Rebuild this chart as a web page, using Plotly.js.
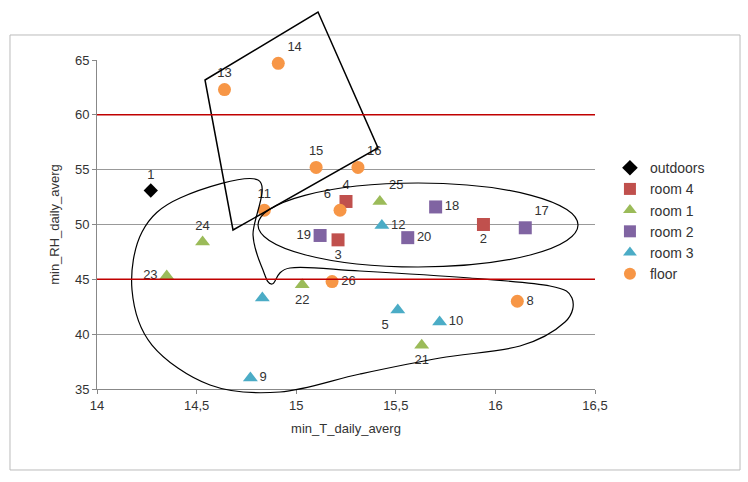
<!DOCTYPE html>
<html><head><meta charset="utf-8">
<script src="https://cdn.plot.ly/plotly-3.0.1.min.js"></script>
<style>body{margin:0;background:#fff}#plot{width:748px;height:482px}</style>
</head><body><div id="plot"></div>
<script>
const outdoorsX = [14.27], outdoorsY = [53.1], outdoorsL = ["1"];
const room4X = [15.25, 15.21, 15.94], room4Y = [52.1, 48.6, 50.0], room4L = ["4", "3", "2"];
const room1X = [15.42, 14.53, 14.35, 15.03, 15.63], room1Y = [52.1, 48.4, 45.3, 44.5, 39.0], room1L = ["25", "24", "23", "22", "21"];
const room2X = [15.12, 15.70, 15.56, 16.15], room2Y = [49.0, 51.6, 48.8, 49.7], room2L = ["19", "18", "20", "17"];
const room3X = [15.43, 14.77, 15.51, 15.72, 14.83], room3Y = [49.9, 36.0, 42.2, 41.1, 43.3], room3L = ["12", "9", "5", "10", ""];
const floorX = [14.64, 14.91, 15.10, 15.31, 14.84, 15.22, 15.18, 16.11], floorY = [62.3, 64.7, 55.2, 55.2, 51.3, 51.3, 44.8, 43.0], floorL = ["13", "14", "15", "16", "11", "6", "26", "8"];

function tr(name, x, y, t, pos, color, symbol) {
  return {x: x, y: y, text: t, name: name, type: "scatter", mode: "markers+text",
    textposition: pos, textfont: {size: 13, color: "#333"}, cliponaxis: false,
    marker: {color: color, symbol: symbol, size: symbol === "diamond" ? 11 : 13}};
}
const traces = [
  tr("outdoors", outdoorsX, outdoorsY, outdoorsL, ["top center"], "#000", "diamond"),
  tr("room 4", room4X, room4Y, room4L, ["top center", "bottom center", "bottom center"], "#c0504d", "square"),
  tr("room 1", room1X, room1Y, room1L, ["top right", "top center", "middle left", "bottom center", "bottom center"], "#9bbb59", "triangle-up"),
  tr("room 2", room2X, room2Y, room2L, ["middle left", "middle right", "middle right", "top right"], "#8064a2", "square"),
  tr("room 3", room3X, room3Y, room3L, ["middle right", "middle right", "bottom left", "middle right", "top center"], "#4bacc6", "triangle-up"),
  tr("floor", floorX, floorY, floorL, ["top center", "top right", "top center", "top right", "top center", "top left", "middle right", "middle right"], "#f79646", "circle")
];

// outline shapes, drawn in pixel space then mapped to paper
const L = 97, R = 595, T = 60, B = 389;
const fx = x => ((x - L) / (R - L)).toFixed(4), fy = y => ((B - y) / (B - T)).toFixed(4);
const px = p => fx(p[0]) + "," + fy(p[1]);
function path(pts) { return "M" + pts.map(px).join(" L") + " Z"; }
// closed catmull-rom -> cubic bezier
function smooth(pts) {
  const n = pts.length;
  let d = "M" + px(pts[0]);
  for (let i = 0; i < n; i++) {
    const p0 = pts[(i - 1 + n) % n], p1 = pts[i], p2 = pts[(i + 1) % n], p3 = pts[(i + 2) % n];
    const c1 = [p1[0] + (p2[0] - p0[0]) / 6, p1[1] + (p2[1] - p0[1]) / 6];
    const c2 = [p2[0] - (p3[0] - p1[0]) / 6, p2[1] - (p3[1] - p1[1]) / 6];
    d += " C" + px(c1) + " " + px(c2) + " " + px(p2);
  }
  return d + " Z";
}
const rect = [[205, 80], [318, 12], [378, 148], [233, 230]];
const blob = [[258, 180], [180, 198], [142, 232], [132, 290], [152, 345], [210, 385], [280, 392], [360, 374], [440, 358], [520, 346], [565, 322], [572, 298], [550, 286], [470, 278], [360, 271], [290, 268], [272, 284], [263, 270], [253, 235]];
const shapes = [
  {type: "path", xref: "paper", yref: "paper", path: path(rect), line: {color: "#000", width: 1.5}},
  {type: "path", xref: "paper", yref: "paper", path: smooth(blob), line: {color: "#000", width: 1.2}},
  {type: "circle", xref: "paper", yref: "paper", x0: fx(258), x1: fx(578), y0: fy(267), y1: fy(183), line: {color: "#000", width: 1.2}},
  {type: "line", xref: "paper", yref: "y", x0: 0, x1: 1, y0: 60, y1: 60, line: {color: "#c00000", width: 1.5}},
  {type: "line", xref: "paper", yref: "y", x0: 0, x1: 1, y0: 45, y1: 45, line: {color: "#c00000", width: 1.5}},
  {type: "rect", xref: "paper", yref: "paper", x0: fx(10), x1: fx(740), y0: fy(470), y1: fy(35), line: {color: "#bbb", width: 1}, layer: "below"}
];

Plotly.newPlot("plot", traces, {
  width: 748, height: 482, margin: {l: L, r: 748 - R, t: T, b: 482 - B},
  separators: ",.", showlegend: true, paper_bgcolor: "#fff", plot_bgcolor: "#fff",
  font: {family: "Liberation Sans, Arial", color: "#333", size: 13},
  xaxis: {range: [14, 16.5], dtick: 0.5, tickformat: ".1~f", showgrid: false, zeroline: false,
    showline: true, linecolor: "#888", ticks: "outside", ticklen: 4, tickcolor: "#888",
    title: {text: "min_T_daily_averg", font: {size: 13}, standoff: 12}},
  yaxis: {range: [35, 65], dtick: 5, showgrid: true, gridcolor: "#999", zeroline: false,
    showline: true, linecolor: "#888", ticks: "outside", ticklen: 4, tickcolor: "#888",
    title: {text: "min_RH_daily_averg", font: {size: 13}, standoff: 12}},
  legend: {x: 1.03, y: 0.72, yanchor: "top", font: {size: 14, color: "#333"}, tracegroupgap: 6, itemsizing: "constant"},
  shapes: shapes
}, {staticPlot: true});
</script></body></html>
